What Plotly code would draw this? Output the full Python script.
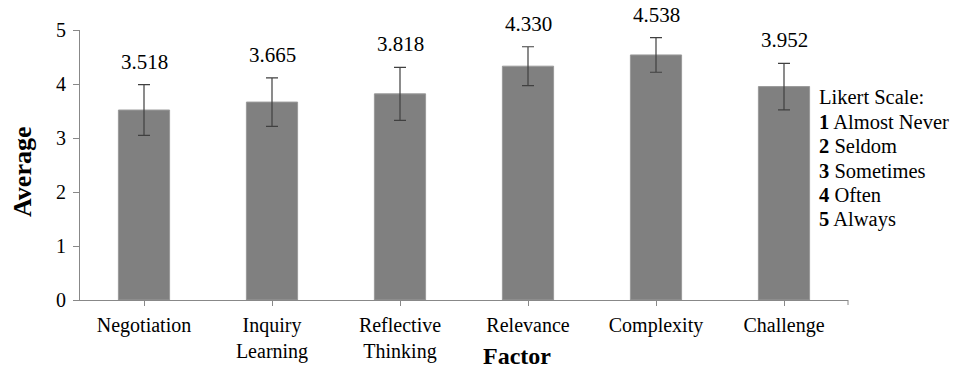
import plotly.graph_objects as go

categories = ["Negotiation", "Inquiry<br>Learning", "Reflective<br>Thinking", "Relevance", "Complexity", "Challenge"]
averages = [3.518, 3.665, 3.818, 4.330, 4.538, 3.952]
errors = [0.47, 0.45, 0.49, 0.36, 0.32, 0.43]
value_labels = ["3.518", "3.665", "3.818", "4.330", "4.538", "3.952"]
y_ticks = [0, 1, 2, 3, 4, 5]
legend_lines = ["Likert Scale:", "<b>1</b> Almost Never", "<b>2</b> Seldom", "<b>3</b> Sometimes", "<b>4</b> Often", "<b>5</b> Always"]

FONT = "Liberation Serif"
W, H = 955, 372
ML, MR, MT, MB = 80, 107, 30, 72

fig = go.Figure()
fig.add_trace(go.Bar(
    x=categories, y=averages, width=0.4,
    marker=dict(color="#808080", line=dict(color="#9a9a9a", width=1)),
    error_y=dict(type="data", array=errors, visible=True, color="#404040", thickness=1.2, width=6),
    hoverinfo="skip",
))

for c, v, e, t in zip(categories, averages, errors, value_labels):
    fig.add_annotation(x=c, y=v + e, text=t, showarrow=False, yanchor="middle", yshift=23,
                       font=dict(family=FONT, size=21, color="#000"))

plot_h = H - MT - MB
plot_w = W - ML - MR
for i, line in enumerate(legend_lines):
    ypx = 97 + i * 24.5
    fig.add_annotation(xref="paper", yref="paper",
                       x=(817 - ML) / plot_w, y=1 - (ypx - MT) / plot_h,
                       xanchor="left", yanchor="middle", text=line, showarrow=False,
                       font=dict(family=FONT, size=20.5, color="#000"))

fig.add_annotation(xref="paper", yref="paper", x=(517 - ML) / plot_w, y=0, yshift=-(MB - 1),
                   text="<b>Factor</b>", showarrow=False, xanchor="center", yanchor="bottom",
                   font=dict(family=FONT, size=24, color="#000"))
fig.add_annotation(xref="paper", yref="paper", x=(22 - ML) / plot_w, y=1 - (172 - MT) / plot_h,
                   text="<b>Average</b>", showarrow=False, textangle=-90, xanchor="center", yanchor="middle",
                   font=dict(family=FONT, size=26, color="#000"))

# end tick on x axis
fig.add_shape(type="line", xref="x domain", yref="paper", x0=1, x1=1, y0=0, y1=-5 / plot_h,
              line=dict(color="#888888", width=1))

fig.update_layout(
    width=W, height=H,
    margin=dict(l=ML, r=MR, t=MT, b=MB, autoexpand=False),
    paper_bgcolor="white", plot_bgcolor="white",
    showlegend=False,
    font=dict(family=FONT, size=20, color="#000"),
    bargap=0.6,
)
fig.update_xaxes(showline=True, linecolor="#888888", linewidth=1, ticks="outside", ticklen=5,
                 tickcolor="#888888", showgrid=False, tickfont=dict(family=FONT, size=20, color="#000"),
                 ticklabelstandoff=2, automargin=False)
fig.update_yaxes(range=[0, 5], tickvals=y_ticks, showline=True, linecolor="#888888", linewidth=1,
                 ticks="outside", ticklen=6, tickcolor="#888888", showgrid=False, zeroline=False,
                 tickfont=dict(family=FONT, size=20, color="#000"), ticklabelstandoff=3, automargin=False)

fig.write_html("out.html", config={"displayModeBar": False},
               post_script="document.body.style.margin='0';document.body.style.overflow='hidden';")
